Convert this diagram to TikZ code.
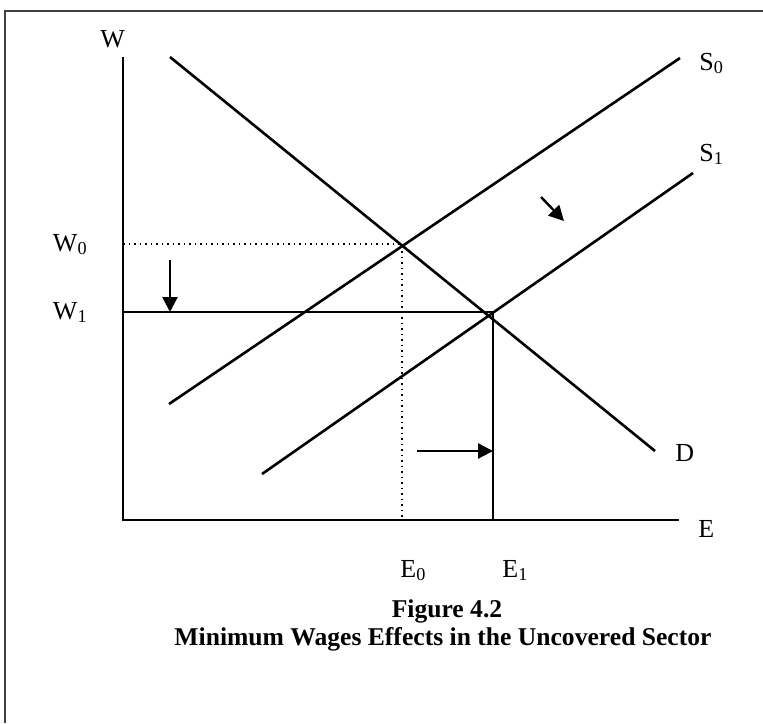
\documentclass[tikz,border=0pt]{standalone}
\usepackage{fontspec}
\setmainfont{Liberation Serif}
\usetikzlibrary{arrows.meta}
\begin{document}
\begin{tikzpicture}[x=0.5pt,y=-0.5pt,
  curve/.style={line width=1.3pt},
  axis/.style={line width=1.3pt},
  guide/.style={line width=0.75pt, dotted},
  shiftarrow/.style={line width=1.2pt,-{Triangle[length=7.5pt,width=7.5pt]}},
  lbl/.style={font=\fontsize{13}{15}\selectfont, inner sep=0pt},
  captxt/.style={font=\bfseries\fontsize{12.8}{15}\selectfont, inner sep=0pt}]
\useasboundingbox (0,0) rectangle (763,723);
% frame
\draw[line width=0.9pt, black!75] (5,723) -- (5,11) -- (763,11);
% coordinates
\coordinate (O) at (123,520);
\coordinate (Ytop) at (123,57);
\coordinate (Xend) at (679,520);
\coordinate (Dtop) at (170,57);
\coordinate (Dend) at (655,451);
\coordinate (S0a) at (169,404);
\coordinate (S0b) at (680,58);
\coordinate (S1a) at (262,474);
\coordinate (S1b) at (693,173);
\coordinate (P0) at (402,244);
\coordinate (P1) at (493,312);
\coordinate (W0y) at (123,244);
\coordinate (W1y) at (123,312);
\coordinate (E0x) at (402,520);
\coordinate (E1x) at (493,520);
\coordinate (da1) at (170,260);
\coordinate (da2) at (170,312);
\coordinate (ra1) at (417,451);
\coordinate (ra2) at (493,451);
\coordinate (ga1) at (541,197);
\coordinate (ga2) at (564,221);
% axes
\draw[axis] (Ytop) -- (O) -- (Xend);
% guides
\draw[guide] (W0y) -- (P0) -- (E0x);
\draw[axis] (W1y) -- (P1) -- (E1x);
% curves
\draw[curve] (Dtop) -- (Dend);
\draw[curve] (S0a) -- (S0b);
\draw[curve] (S1a) -- (S1b);
% shift arrows
\draw[shiftarrow] (da1) -- (da2);
\draw[shiftarrow] (ra1) -- (ra2);
\draw[shiftarrow] (ga1) -- (ga2);
% labels
\node[lbl, anchor=base west] (lW) at (100,47) {W};
\node[lbl, anchor=base east] (lW0) at (88,251) {W\textsubscript{0}};
\node[lbl, anchor=base east] (lW1) at (88,319) {W\textsubscript{1}};
\node[lbl, anchor=base west] (lS0) at (699,70) {S\textsubscript{0}};
\node[lbl, anchor=base west] (lS1) at (699,161) {S\textsubscript{1}};
\node[lbl, anchor=base west] (lD) at (675,461) {D};
\node[lbl, anchor=base west] (lE) at (698,537) {E};
\node[lbl, anchor=base west] (lE0) at (400,577) {E\textsubscript{0}};
\node[lbl, anchor=base west] (lE1) at (502,577) {E\textsubscript{1}};
\node[captxt, anchor=base] (cap1) at (447,617) {Figure 4.2};
\node[captxt, anchor=base] (cap2) at (443,645) {Minimum Wages Effects in the Uncovered Sector};
\end{tikzpicture}
\end{document}
